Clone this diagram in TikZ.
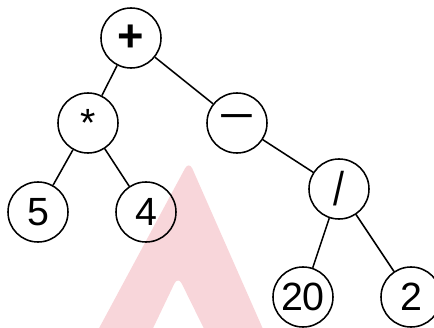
\documentclass[tikz,border=0pt]{standalone}
\usepackage{fontspec}
\setmainfont{Liberation Sans}
\definecolor{markpink}{RGB}{248,214,218}

\begin{document}
\begin{tikzpicture}[x=0.025cm, y=-0.025cm,
	op/.style={draw, circle, line width=1.1pt, minimum size=1.5cm, inner sep=0pt, font=\fontsize{28}{32}\selectfont},
	branch/.style={line width=1.1pt}]
	\useasboundingbox (0,0) rectangle (434,328);
	
	% watermark behind the tree
	\fill [markpink, rounded corners=6pt] (90,345) -- (189,161) -- (270,345) -- (212,345) -- (178,276) -- (145,345) -- cycle;
	
	\node [op] (plus) at (131,38) {\scalebox{1.15}{\textbf{+}}};
	\node [op] (times) at (88,123) {\raisebox{-0.25ex}{*}};
	\node [op] (minus) at (237,123) {\scalebox{1.6}[1.1]{−}};
	\node [op] (five) at (38,212) {5};
	\node [op] (four) at (146,212) {4};
	\node [op] (div) at (339,189) {\scalebox{1}[1.2]{/}};
	\node [op] (twenty) at (303,297) {20};
	\node [op] (two) at (411,297) {2};
	
	\draw [branch] (plus) -- (times);
	\draw [branch] (plus) -- (minus);
	\draw [branch] (times) -- (five);
	\draw [branch] (times) -- (four);
	\draw [branch] (minus) -- (div);
	\draw [branch] (div) -- (twenty);
	\draw [branch] (div) -- (two);
\end{tikzpicture}
\end{document}
